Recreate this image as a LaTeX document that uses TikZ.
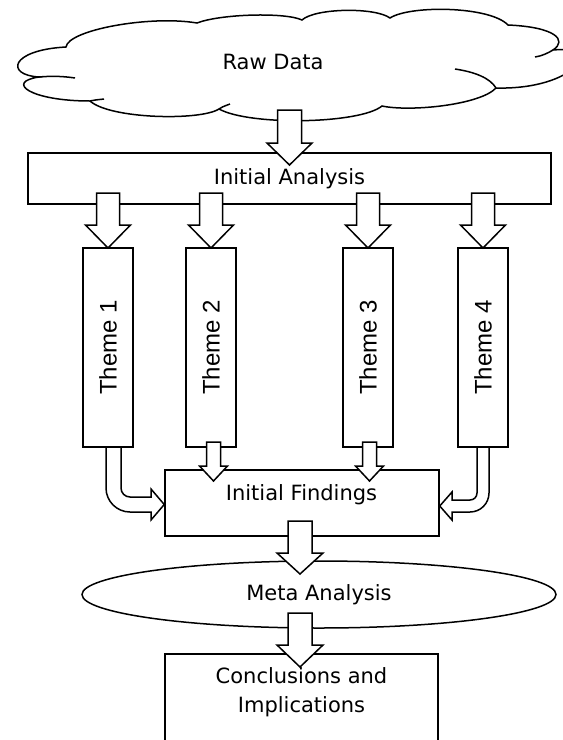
\documentclass[tikz,border=0pt]{standalone}
\usepackage{fontspec}
\setmainfont{DejaVu Sans}
\newfontfamily\themefont{Liberation Sans}
\usetikzlibrary{shapes.geometric,calc}
\newcommand\blockdown[5]{%
  \draw[blockarrow] let \p1=(#1), \p2=(#2) in
    (\x2-#3,\y1) -- (\x2+#3,\y1) -- (\x2+#3,\y2+#5) -- (\x2+#4,\y2+#5) --
    (\x2,\y2) -- (\x2-#4,\y2+#5) -- (\x2-#3,\y2+#5) -- cycle;}
\begin{document}
\begin{tikzpicture}[x=1pt,y=-1pt,line width=1.5pt,
  box/.style={draw,fill=white,rectangle,inner sep=0pt},
  blockarrow/.style={draw,fill=white,line width=1.5pt,line join=miter},
  maintext/.style={font=\fontsize{21}{29}\selectfont,inner sep=0pt},
  themebox/.style={box,minimum width=199pt,minimum height=50pt,
    font=\themefont\fontsize{24}{28}\selectfont,rotate=90},
  cloudline/.style={draw,line width=1.5pt}]
\useasboundingbox (0,0) rectangle (563,740);
\clip (0,0) rectangle (563,740);
% cloud
\path[cloudline,fill=white] (66,47)
  .. controls (68,30) and (150,15) .. (197,23)
  .. controls (220,14) and (285,12) .. (302,20)
  .. controls (315,8) and (375,7) .. (390,18)
  .. controls (410,5) and (490,6) .. (508,25)
  .. controls (555,27) and (568,40) .. (553,50)
  .. controls (605,45) and (575,90) .. (496,88)
  .. controls (480,105) and (410,112) .. (382,106)
  .. controls (360,124) and (250,126) .. (219,109)
  .. controls (200,121) and (110,119) .. (90,101)
  .. controls (30,101) and (5,82) .. (39,77)
  .. controls (5,75) and (10,50) .. (66,47) -- cycle;
\draw[cloudline] (553,50) .. controls (548,53) and (542,56) .. (535,57);
\draw[cloudline] (455,69) .. controls (475,72) and (490,78) .. (496,88);
\draw[cloudline] (219,109) .. controls (222,107) .. (230,104);
\draw[cloudline] (90,101) .. controls (95,100) .. (104,99);
\draw[cloudline] (39,77) .. controls (50,76) and (62,76) .. (75,78);
\node[maintext,anchor=base] (raw) at (273,69) {Raw Data};
% boxes
\node[box,maintext,minimum width=523pt,minimum height=51pt] (ia) at (289.5,178.5) {Initial Analysis};
\node[themebox] (t1) at (108,347.5) {Theme 1};
\node[themebox] (t2) at (211,347.5) {Theme 2};
\node[themebox] (t3) at (368,347.5) {Theme 3};
\node[themebox] (t4) at (483,347.5) {Theme 4};
\node[box,minimum width=274pt,minimum height=66pt] (fb) at (302,503) {};
\node[maintext,anchor=base] (ft) at (301.5,500) {Initial Findings};
\node[draw,fill=white,ellipse,minimum width=474pt,minimum height=67pt,inner sep=0pt,maintext] (meta) at (319,594.5) {Meta Analysis};
\node[box,minimum width=273pt,minimum height=120pt] (cb) at (301.5,714) {};
\node[maintext,align=center] (ct) at (301.5,692) {Conclusions and\\Implications};
% straight block arrows
\coordinate (a0s) at (289.5,110); \coordinate (a0e) at (289.5,165);
\coordinate (a1s) at (108,193);   \coordinate (a1e) at (108,248);
\coordinate (a2s) at (211,193);   \coordinate (a2e) at (211,248);
\coordinate (a3s) at (368,193);   \coordinate (a3e) at (368,248);
\coordinate (a4s) at (483,193);   \coordinate (a4e) at (483,248);
\coordinate (b2s) at (213.5,442); \coordinate (b2e) at (213.5,481);
\coordinate (b3s) at (369.5,442); \coordinate (b3e) at (369.5,481);
\coordinate (m1s) at (300,521);   \coordinate (m1e) at (300,574);
\coordinate (m2s) at (300,613);   \coordinate (m2e) at (300,667);
\blockdown{a0s}{a0e}{12pt}{22.5pt}{22pt}
\blockdown{a1s}{a1e}{11.5pt}{22.5pt}{23pt}
\blockdown{a2s}{a2e}{11.5pt}{22.5pt}{23pt}
\blockdown{a3s}{a3e}{11.5pt}{22.5pt}{23pt}
\blockdown{a4s}{a4e}{11.5pt}{22.5pt}{23pt}
\blockdown{b2s}{b2e}{7pt}{14pt}{15pt}
\blockdown{b3s}{b3e}{7pt}{14pt}{15pt}
\blockdown{m1s}{m1e}{12pt}{23pt}{21pt}
\blockdown{m2s}{m2e}{12pt}{23pt}{22pt}
% curved block arrows
\draw[blockarrow] (106,447) -- (106,488) .. controls (106,501.2) and (116.8,512) .. (130,512)
  -- (151,512) -- (151,520) -- (fb.west |- 0,504.5) -- (151,489) -- (151,497) -- (130,497)
  .. controls (125,497) and (121,493) .. (121,488) -- (121,447) -- cycle;
\draw[blockarrow] (489,447) -- (489,493) .. controls (489,503.5) and (480.5,512) .. (470,512)
  -- (452,512) -- (452,520) -- (fb.east |- 0,506) -- (452,492) -- (452,500) -- (470,500)
  .. controls (473.9,500) and (477,496.9) .. (477,493) -- (477,447) -- cycle;
\end{tikzpicture}
\end{document}
